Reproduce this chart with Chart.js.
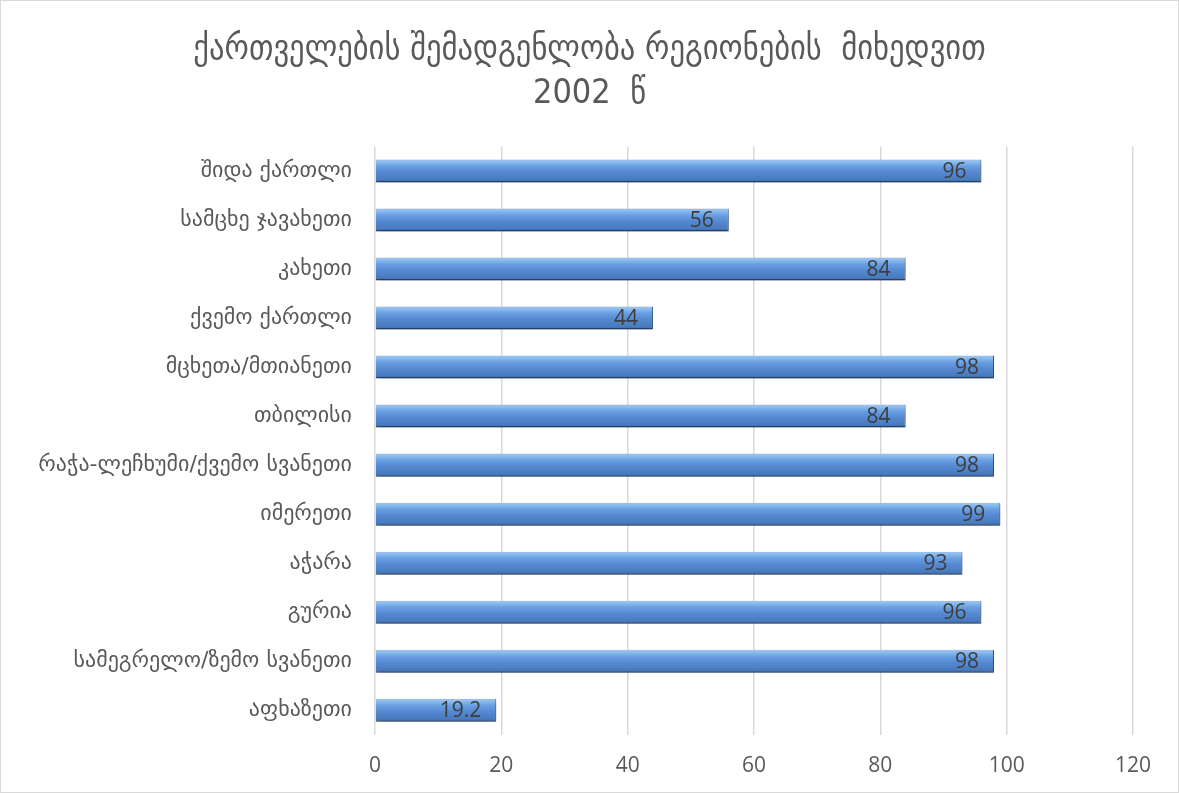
<!DOCTYPE html>
<html>
<head>
<meta charset="utf-8">
<script src="https://cdn.jsdelivr.net/npm/chart.js@4"></script>
<style>
  html, body { margin: 0; padding: 0; background: #fff; }
  #wrap { width: 1179px; height: 793px; box-sizing: border-box; border: 1px solid #d9d9d9; }
</style>
</head>
<body>
<div id="wrap"><canvas id="chart"></canvas></div>
<script>
// data
const categories = [
  'შიდა ქართლი',
  'სამცხე ჯავახეთი',
  'კახეთი',
  'ქვემო ქართლი',
  'მცხეთა/მთიანეთი',
  'თბილისი',
  'რაჭა-ლეჩხუმი/ქვემო სვანეთი',
  'იმერეთი',
  'აჭარა',
  'გურია',
  'სამეგრელო/ზემო სვანეთი',
  'აფხაზეთი'
];
const shares = [96, 56, 84, 44, 98, 84, 98, 99, 93, 96, 98, 19.2];
const titleLines = ['ქართველების შემადგენლობა რეგიონების  მიხედვით', '2002  წ'];
const xTicks = [0, 20, 40, 60, 80, 100, 120];

const textGray = '#595959';
const barShare = 0.47;

// bar fill: glossy blue gradient across the bar thickness
function barFill(ctx) {
  const chart = ctx.chart;
  const y = chart.scales && chart.scales.y;
  if (!chart.chartArea || !y || ctx.dataIndex == null) return '#5b8fd0';
  const mid = y.getPixelForValue(ctx.dataIndex);
  const half = (y.bottom - y.top) / categories.length * barShare / 2;
  const g = chart.ctx.createLinearGradient(0, mid - half, 0, mid + half);
  g.addColorStop(0, '#a4c1e4');
  g.addColorStop(0.1, '#8cbdf0');
  g.addColorStop(0.3, '#679fe1');
  g.addColorStop(0.55, '#5789d2');
  g.addColorStop(0.88, '#487abe');
  g.addColorStop(1, '#38649f');
  return g;
}

const barShadow = {
  id: 'barShadow',
  beforeDatasetsDraw(chart) {
    const c = chart.ctx;
    c.save();
    c.shadowColor = 'rgba(0,0,0,0.35)';
    c.shadowBlur = 6;
    c.shadowOffsetX = 1;
    c.shadowOffsetY = 3;
  },
  afterDatasetsDraw(chart) {
    chart.ctx.restore();
  }
};

const valueLabels = {
  id: 'valueLabels',
  afterDatasetsDraw(chart) {
    const c = chart.ctx;
    c.save();
    c.font = '21px "Open Sans", sans-serif';
    c.fillStyle = '#3d3d3d';
    c.textAlign = 'right';
    c.textBaseline = 'middle';
    chart.getDatasetMeta(0).data.forEach((bar, i) => {
      c.fillText(String(shares[i]), bar.x - 15, bar.y + 1);
    });
    c.restore();
  }
};

new Chart(document.getElementById('chart'), {
  type: 'bar',
  data: {
    labels: categories,
    datasets: [{
      data: shares,
      backgroundColor: barFill,
      borderColor: '#30598f',
      borderWidth: { top: 0, left: 0, right: 1, bottom: 1.5 },
      borderSkipped: false,
      categoryPercentage: barShare,
      barPercentage: 1
    }]
  },
  options: {
    indexAxis: 'y',
    responsive: true,
    maintainAspectRatio: false,
    animation: false,
    layout: { padding: { top: 10, right: 0, bottom: -6, left: 0 } },
    plugins: {
      legend: { display: false },
      tooltip: { enabled: false },
      title: {
        display: true,
        text: titleLines,
        color: textGray,
        font: { family: '"DejaVu Sans Condensed", "DejaVu Sans", sans-serif', size: 34, weight: 'normal', lineHeight: 1.3 },
        padding: { top: 17, bottom: 30 }
      }
    },
    scales: {
      x: {
        min: 0,
        max: 120,
        afterBuildTicks(scale) { scale.ticks = xTicks.map(v => ({ value: v })); },
        afterFit(scale) { scale.paddingRight = 45; },
        grid: { color: '#d9d9d9', lineWidth: 1.5, drawTicks: false },
        border: { display: false },
        ticks: { color: textGray, font: { family: '"Open Sans", sans-serif', size: 21 }, padding: 19 }
      },
      y: {
        grid: { display: false },
        border: { display: false },
        afterFit(scale) { scale.width = 374; },
        ticks: { color: textGray, font: { family: '"DejaVu Sans", sans-serif', size: 22 }, padding: 15 }
      }
    }
  },
  plugins: [barShadow, valueLabels]
});
</script>
</body>
</html>
